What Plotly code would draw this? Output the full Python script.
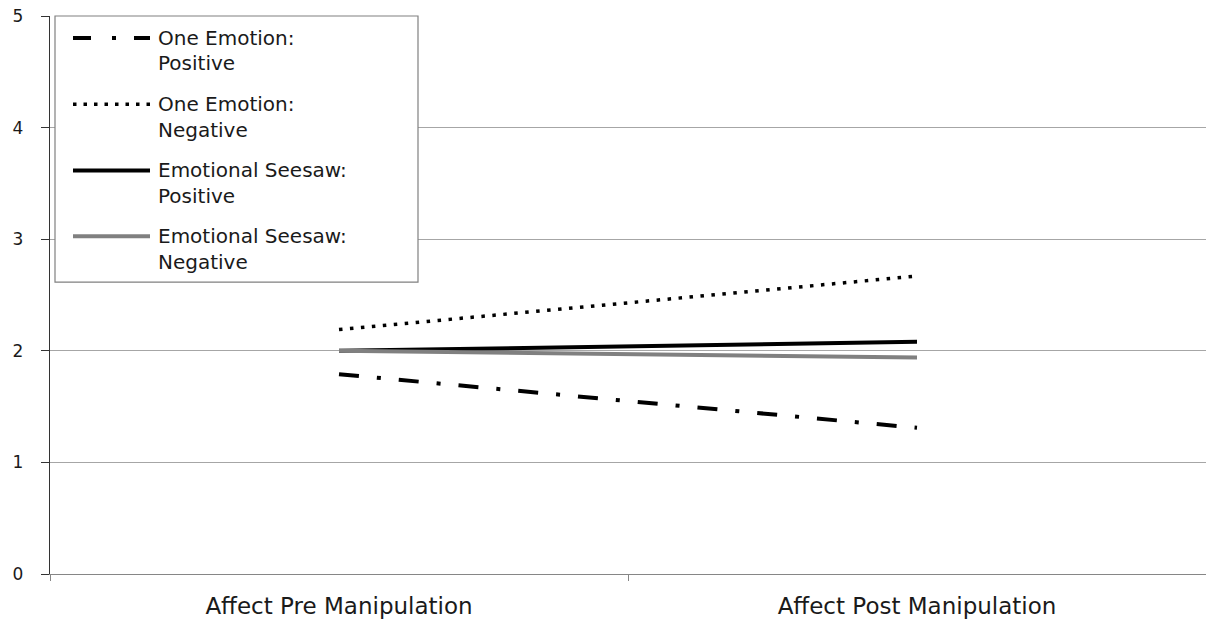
import plotly.graph_objects as go

# Category axis and series values
categories = ["Affect Pre Manipulation", "Affect Post Manipulation"]
one_emotion_positive = [1.79, 1.31]
one_emotion_negative = [2.19, 2.67]
seesaw_positive = [2.00, 2.08]
seesaw_negative = [2.00, 1.94]

series_names = [
    ("One Emotion:", "Positive"),
    ("One Emotion:", "Negative"),
    ("Emotional Seesaw:", "Positive"),
    ("Emotional Seesaw:", "Negative"),
]
y_ticks = [0, 1, 2, 3, 4, 5]

W, H = 1206, 619
M_L, M_R, M_T, M_B = 50, 0, 16, 43

styles = [
    dict(color="#000000", width=4, dash="20px,18px,4px,18px"),
    dict(color="#000000", width=3.5, dash="3.5px,7.5px"),
    dict(color="#000000", width=4, dash="solid"),
    dict(color="#808080", width=4, dash="solid"),
]
legend_dash = ["18px,21px,4px,18px", "3.5px,7px", "solid", "solid"]

all_series = [one_emotion_positive, one_emotion_negative, seesaw_positive, seesaw_negative]

fig = go.Figure()
for (l1, l2), vals, st in zip(series_names, all_series, styles):
    fig.add_trace(go.Scatter(
        x=categories, y=vals, mode="lines", name=f"{l1} {l2}",
        line=st, showlegend=False, hoverinfo="skip",
    ))


def px_x(px):
    return (px - M_L) / (W - M_L - M_R)


def px_y(py):
    return (H - M_B - py) / (H - M_T - M_B)


shapes = []
annotations = []

# legend frame
shapes.append(dict(type="rect", xref="paper", yref="paper",
                   x0=px_x(55), x1=px_x(418), y0=px_y(283), y1=px_y(16),
                   line=dict(color="#808080", width=1.2), fillcolor="white", layer="above"))

entry_y = [38, 104.5, 171, 237]
for i, ((l1, l2), st) in enumerate(zip(series_names, styles)):
    yy = entry_y[i]
    shapes.append(dict(type="line", xref="paper", yref="paper",
                       x0=px_x(73), x1=px_x(150), y0=px_y(yy), y1=px_y(yy),
                       line=dict(color=st["color"], width=st["width"], dash=legend_dash[i]),
                       layer="above"))
    for text, ty in ((l1, yy), (l2, yy + 25.5)):
        annotations.append(dict(xref="paper", yref="paper", x=px_x(156), y=px_y(ty),
                                xanchor="left", yanchor="middle", text=text, showarrow=False,
                                font=dict(family="DejaVu Sans", size=20, color="#1a1a1a")))

fig.update_layout(
    width=W, height=H,
    margin=dict(l=M_L, r=M_R, t=M_T, b=M_B),
    paper_bgcolor="white", plot_bgcolor="white",
    shapes=shapes, annotations=annotations,
    showlegend=False,
    xaxis=dict(
        type="category", range=[-0.5, 1.5],
        tickson="boundaries", ticks="outside", ticklen=6, tickcolor="#868686",
        showline=True, linecolor="#868686", linewidth=1.2,
        showgrid=False, zeroline=False,
        ticklabelstandoff=11,
        tickfont=dict(family="DejaVu Sans", size=23, color="#1a1a1a"),
    ),
    yaxis=dict(
        range=[0, 5], tickvals=y_ticks, ticktext=[str(v) for v in y_ticks],
        ticks="outside", ticklen=8, tickcolor="#333333",
        showline=True, linecolor="#333333", linewidth=1.3,
        showgrid=True, gridcolor="#a6a6a6", gridwidth=1,
        zeroline=False, ticklabelstandoff=14,
        tickfont=dict(family="DejaVu Sans", size=17, color="#1a1a1a"),
    ),
)

fig.write_html("out.html")
